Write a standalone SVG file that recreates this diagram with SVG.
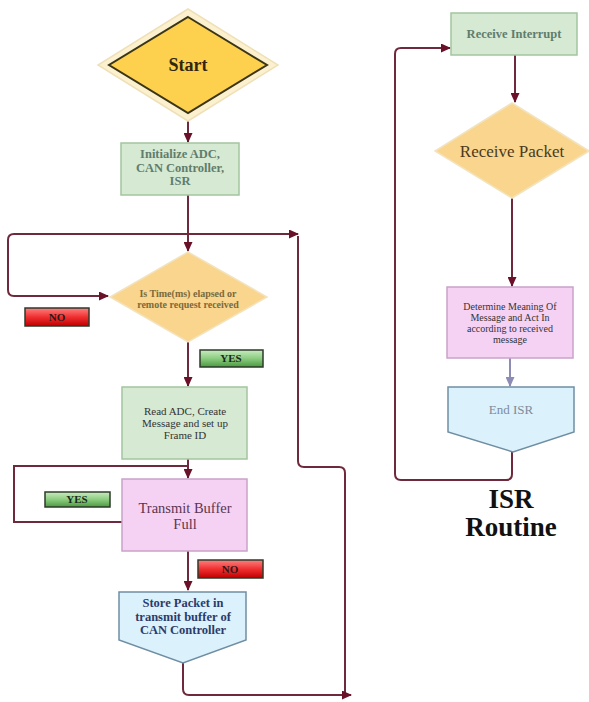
<svg xmlns="http://www.w3.org/2000/svg" width="589" height="702" viewBox="0 0 589 702">
<style>
.c{fill:none;stroke:#6e2a3c;stroke-width:2}
.cb{fill:none;stroke:#8c8cb4;stroke-width:2}
.t{font-family:"Liberation Serif","DejaVu Serif",serif;text-anchor:middle}
.g{fill:#d6e9d3;stroke:#a3c59f;stroke-width:1.5}
.p{fill:#f5d2f3;stroke:#c8a3c9;stroke-width:1.5}
.bl{fill:#dbf1fb;stroke:#6f8ea3;stroke-width:1.5}
.d{fill:#f9d58d;stroke:#f3e3bd;stroke-width:1.5}
.lb{stroke:#2e3a2a;stroke-width:1.5}
</style>
<defs>
<marker id="a" markerWidth="10" markerHeight="9" refX="9" refY="4.5" orient="auto" markerUnits="userSpaceOnUse"><path d="M0,0 L10,4.5 L0,9 Z" fill="#6a1028"/></marker>
<marker id="ab" markerWidth="10" markerHeight="9" refX="9" refY="4.5" orient="auto" markerUnits="userSpaceOnUse"><path d="M0,0 L10,4.5 L0,9 Z" fill="#8c8cb4"/></marker>
<linearGradient id="red" x1="0" y1="0" x2="0" y2="1"><stop offset="0" stop-color="#ff8080"/><stop offset="0.5" stop-color="#f03030"/><stop offset="1" stop-color="#c00000"/></linearGradient>
<linearGradient id="grn" x1="0" y1="0" x2="0" y2="1"><stop offset="0" stop-color="#c8ecc0"/><stop offset="0.5" stop-color="#8ccc80"/><stop offset="1" stop-color="#4a9a40"/></linearGradient>
</defs>
<rect width="589" height="702" fill="#ffffff"/>
<g id="connectors">
<path class="c" d="M188,120 L188,142" marker-end="url(#a)"/>
<path class="c" d="M188,195 L188,251" marker-end="url(#a)"/>
<path class="c" d="M8,242 L8,240 Q8,234 14,234 L298,234" marker-end="url(#a)"/>
<path class="c" d="M8,240 L8,290 Q8,296 14,296 L108,296" marker-end="url(#a)"/>
<path class="c" d="M298,236 L298,461 Q298,467 304,467 L339,467 Q345,467 345,473 L345,695"/>
<path class="c" d="M188,342 L188,386" marker-end="url(#a)"/>
<path class="c" d="M188,459 L188,478" marker-end="url(#a)"/>
<path class="c" d="M122,522 L14,522 L14,466 L188,466"/>
<path class="c" d="M188,551 L188,590" marker-end="url(#a)"/>
<path class="c" d="M183,663 L183,689 Q183,695 189,695 L351,695" marker-end="url(#a)"/>
<path class="c" d="M512,452 L512,474 Q512,480 506,480 L401,480 Q395,480 395,474 L395,54 Q395,48 401,48 L450,48" marker-end="url(#a)"/>
<path class="c" d="M515,55 L515,102" marker-end="url(#a)"/>
<path class="c" d="M512,198 L512,286" marker-end="url(#a)"/>
<path class="cb" d="M510,358 L510,386" marker-end="url(#ab)"/>
</g>
<g id="start">
<polygon points="188,9 278,65 188,121 98,65" fill="#fcf1cf" stroke="#efe0b8" stroke-width="1.5"/>
<polygon points="188,17 267,65 188,113 109,65" fill="#fdd04e" stroke="#3b3518" stroke-width="2"/>
<text class="t" x="188" y="71" font-size="18" font-weight="bold" fill="#33260f">Start</text>
</g>
<g id="init">
<rect class="g" x="121" y="143" width="118" height="52"/>
<text class="t" x="180" y="158" font-size="12.5" font-weight="bold" fill="#5f7d6d">Initialize ADC,</text>
<text class="t" x="180" y="171.5" font-size="12.5" font-weight="bold" fill="#5f7d6d">CAN Controller,</text>
<text class="t" x="180" y="185" font-size="12.5" font-weight="bold" fill="#5f7d6d">ISR</text>
</g>
<g id="decision">
<polygon class="d" points="188,252 267,297 188,342 110,297"/>
<text class="t" x="188" y="297" font-size="10" font-weight="bold" fill="#7b6a3c">Is Time(ms) elapsed or</text>
<text class="t" x="188" y="308" font-size="10" font-weight="bold" fill="#7b6a3c">remote request received</text>
</g>
<g id="no1">
<rect class="lb" x="25" y="308" width="64" height="18" fill="url(#red)"/>
<text class="t" x="57" y="321" font-size="11" font-weight="bold" fill="#2a1a1a">NO</text>
</g>
<g id="yes1">
<rect class="lb" x="200" y="350" width="63" height="17" fill="url(#grn)"/>
<text class="t" x="231" y="362" font-size="11" font-weight="bold" fill="#1a2a1a">YES</text>
</g>
<g id="read">
<rect class="g" x="122" y="387" width="125" height="72"/>
<text class="t" x="185" y="415" font-size="11" fill="#333333">Read ADC, Create</text>
<text class="t" x="185" y="427" font-size="11" fill="#333333">Message and set up</text>
<text class="t" x="185" y="439" font-size="11" fill="#333333">Frame ID</text>
</g>
<g id="transmit">
<rect class="p" x="122" y="479" width="125" height="72"/>
<text class="t" x="185" y="513" font-size="14.5" fill="#5a3552">Transmit Buffer</text>
<text class="t" x="185" y="529" font-size="14.5" fill="#5a3552">Full</text>
</g>
<g id="yes2">
<rect class="lb" x="45" y="492" width="65" height="15" fill="url(#grn)"/>
<text class="t" x="77" y="503" font-size="11" font-weight="bold" fill="#1a2a1a">YES</text>
</g>
<g id="no2">
<rect class="lb" x="198" y="560" width="65" height="18" fill="url(#red)"/>
<text class="t" x="230" y="573" font-size="11" font-weight="bold" fill="#2a1a1a">NO</text>
</g>
<g id="store">
<polygon class="bl" points="119,592 246,592 246,640 183,663 119,640"/>
<text class="t" x="183" y="607" font-size="12.5" font-weight="bold" fill="#2b3b6b">Store Packet in</text>
<text class="t" x="183" y="620.5" font-size="12.5" font-weight="bold" fill="#2b3b6b">transmit buffer of</text>
<text class="t" x="183" y="634" font-size="12.5" font-weight="bold" fill="#2b3b6b">CAN Controller</text>
</g>
<g id="receive-interrupt">
<rect class="g" x="451" y="13" width="126" height="42"/>
<text class="t" x="514" y="38" font-size="12.5" font-weight="bold" fill="#5f7d6d">Receive Interrupt</text>
</g>
<g id="receive-packet">
<polygon class="d" points="512,103 589,151 512,198 435,151"/>
<text class="t" x="512" y="157" font-size="17" fill="#4a3a1e">Receive Packet</text>
</g>
<g id="determine">
<rect class="p" x="447" y="287" width="126" height="71"/>
<text class="t" x="510" y="310" font-size="10" fill="#333333">Determine Meaning Of</text>
<text class="t" x="510" y="321" font-size="10" fill="#333333">Message and Act In</text>
<text class="t" x="510" y="332" font-size="10" fill="#333333">according to received</text>
<text class="t" x="510" y="343" font-size="10" fill="#333333">message</text>
</g>
<g id="end-isr">
<polygon class="bl" points="448,387 574,387 574,432 513,452 448,432"/>
<text class="t" x="511" y="414" font-size="13" fill="#7d8c9b">End ISR</text>
</g>
<g id="title">
<text class="t" x="511" y="508" font-size="27" font-weight="bold" fill="#111111">ISR</text>
<text class="t" x="511" y="536" font-size="27" font-weight="bold" fill="#111111">Routine</text>
</g>
</svg>
